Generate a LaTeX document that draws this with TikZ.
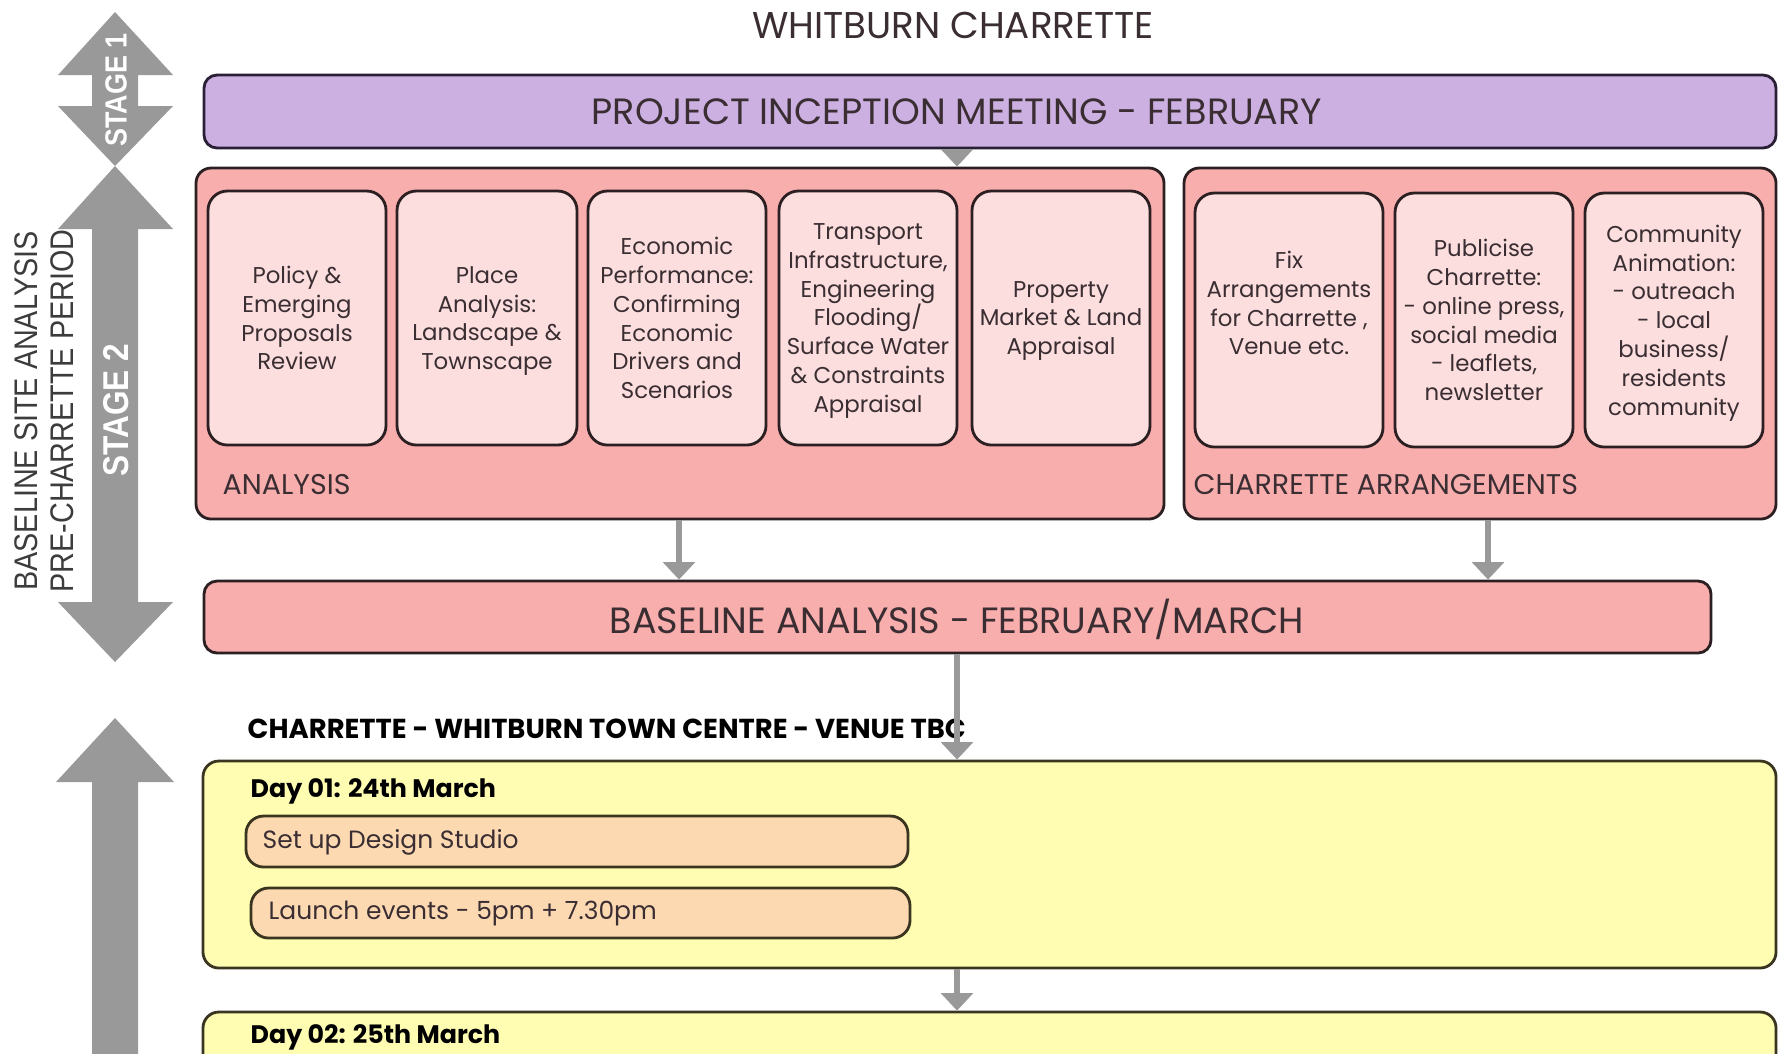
\documentclass[tikz,border=0pt]{standalone}
\usepackage{fontspec}
\setmainfont{Poppins}
\newfontfamily\din[FakeStretch=0.88]{Liberation Sans}
\usetikzlibrary{fit,arrows.meta}

\definecolor{inkc}{HTML}{3A2E33}
\definecolor{lilac}{HTML}{CDB0E2}
\definecolor{lilacedge}{HTML}{2A2036}
\definecolor{salmon}{HTML}{F9AEAE}
\definecolor{blush}{HTML}{FCDEDE}
\definecolor{cream}{HTML}{FFFDB2}
\definecolor{creamedge}{HTML}{3A3520}
\definecolor{peach}{HTML}{FDD9B2}
\definecolor{steel}{HTML}{999999}
\definecolor{edge}{HTML}{2B1F22}
\definecolor{sidegray}{HTML}{3C3C3C}

\tikzset{
  box/.style={draw=edge, line width=0.8pt, inner sep=0pt},
  panel/.style={box, fill=salmon, rounded corners=4.3pt},
  card/.style={box, fill=blush, rounded corners=5.5pt},
  cardtext/.style={align=center, text=inkc, inner sep=0pt, text depth=0pt,
    font=\fontsize{6.5}{8.2}\selectfont},
  bar/.style={box, rounded corners=3.7pt},
  bartext/.style={text=inkc, inner sep=0pt, font=\fontsize{10.4}{12}\selectfont},
  paneltext/.style={text=inkc, inner sep=0pt, anchor=base west, font=\fontsize{8.1}{9}\selectfont},
  daybox/.style={box, draw=creamedge, fill=cream, rounded corners=4.5pt},
  pill/.style={box, draw=creamedge, fill=peach, rounded corners=5pt},
  pilltext/.style={text=inkc, inner sep=0pt, anchor=west, font=\fontsize{7.1}{9}\selectfont},
  headtext/.style={text=black, inner sep=0pt, anchor=base west, font=\bfseries\fontsize{7.2}{9}\selectfont},
  stagetext/.style={rotate=90, text=white, inner sep=0pt, font=\din\bfseries},
  conn/.style={draw=steel, line width=1.7pt, -{Triangle[width=9pt,length=5pt]}},
}

\begin{document}
\begin{tikzpicture}[x=0.01cm, y=-0.01cm]
  \useasboundingbox (0,0) rectangle (1780,1053);
  \clip (0,0) rectangle (1780,1053);

  % common vertical axis and connector columns
  \coordinate (axis) at (957,0);
  \coordinate (lcol) at (679,0);
  \coordinate (rcol) at (1488,0);

  % title
  \node[bartext, font=\fontsize{10.6}{12}\selectfont] (title) at (953,25) {WHITBURN CHARRETTE};

  % stage arrows on the left
  \fill[steel] (115,12) -- (173,75) -- (138,75) -- (138,106) -- (173,106) -- (115,166)
    -- (58,106) -- (92,106) -- (92,75) -- (58,75) -- cycle;
  \fill[steel] (115,166) -- (173,229) -- (138,229) -- (138,602) -- (173,602) -- (115,662)
    -- (58,602) -- (92,602) -- (92,229) -- (58,229) -- cycle;
  \fill[steel] (115,718) -- (174,782) -- (138,782) -- (138,1070) -- (92,1070) -- (92,782)
    -- (56,782) -- cycle;
  \node[stagetext, font=\din\bfseries\fontsize{8.7}{10}\selectfont] (stage1) at (116,90) {STAGE 1};
  \node[stagetext, font=\din\bfseries\fontsize{10.2}{11}\selectfont] (stage2) at (116,410) {STAGE 2};
  \node[rotate=90, align=center, text=sidegray, inner sep=0pt,
        font=\din\fontsize{9.3}{10.2}\selectfont] (period) at (44,411)
        {BASELINE SITE ANALYSIS\\PRE-CHARRETTE PERIOD};

  % inception meeting
  \node[bar, fill=lilac, draw=lilacedge, fit={(204,75) (1776,148)}] (pim) {};
  \node[bartext] (pimt) at (957,112) {PROJECT INCEPTION MEETING - FEBRUARY};

  % analysis panel
  \node[panel, fit={(196,168) (1164,519)}] (ana) {};
  \node[paneltext] (anat) at (222,494) {ANALYSIS};
  \node[card, fit={(208,191) (386,445)}] (a1) {};
  \node[card, fit={(397,191) (577,445)}] (a2) {};
  \node[card, fit={(588,191) (766,445)}] (a3) {};
  \node[card, fit={(779,191) (957,445)}] (a4) {};
  \node[card, fit={(972,191) (1150,445)}] (a5) {};
  \node[cardtext] (a1t) at (a1.center) {Policy \&\\Emerging\\Proposals\\Review};
  \node[cardtext] (a2t) at (a2.center) {Place\\Analysis:\\Landscape \&\\Townscape};
  \node[cardtext] (a3t) at (a3.center) {Economic\\Performance:\\Confirming\\Economic\\Drivers and\\Scenarios};
  \node[cardtext] (a4t) at (a4.center) {Transport\\Infrastructure,\\Engineering\\Flooding/\\Surface Water\\\& Constraints\\Appraisal};
  \node[cardtext] (a5t) at (a5.center) {Property\\Market \& Land\\Appraisal};

  % charrette arrangements panel
  \node[panel, fit={(1184,168) (1776,519)}] (arr) {};
  \node[paneltext] (arrt) at (1193,494) {CHARRETTE ARRANGEMENTS};
  \node[card, fit={(1195,193) (1383,447)}] (c1) {};
  \node[card, fit={(1395,193) (1573,447)}] (c2) {};
  \node[card, fit={(1585,193) (1763,447)}] (c3) {};
  \node[cardtext] (c1t) at (1289,303) {Fix\\Arrangements\\for Charrette ,\\Venue etc.};
  \node[cardtext] (c2t) at (c2.center) {Publicise\\Charrette:\\- online press,\\social media\\- leaflets,\\newsletter};
  \node[cardtext] (c3t) at (c3.center) {Community\\Animation:\\- outreach\\- local\\business/\\residents\\community};

  % baseline analysis
  \node[bar, fill=salmon, fit={(204,581) (1711,653)}] (base) {};
  \node[bartext] (baset) at (957,619) {BASELINE ANALYSIS - FEBRUARY/MARCH};

  % charrette days
  \node[headtext, font=\bfseries\fontsize{7.8}{9}\selectfont] (venue) at (247,738) {CHARRETTE - WHITBURN TOWN CENTRE - VENUE TBC};
  \node[daybox, fit={(203,761) (1776,968)}] (day1) {};
  \node[headtext] (day1t) at (250,797) {Day 01: 24th March};
  \node[pill, fit={(246,816) (908,867)}] (setup) {};
  \node[pilltext] (setupt) at (262,842) {Set up Design Studio};
  \node[pill, fit={(251,888) (910,938)}] (launch) {};
  \node[pilltext] (launcht) at (268,913) {Launch events - 5pm + 7.30pm};
  \node[daybox, fit={(203,1012) (1776,1110)}] (day2) {};
  \node[headtext] (day2t) at (250,1043) {Day 02: 25th March};

  % connectors
  \draw[conn] (pim.south -| axis) -- (ana.north -| axis);
  \draw[conn] (ana.south -| lcol) -- (base.north -| lcol);
  \draw[conn] (arr.south -| rcol) -- (base.north -| rcol);
  \draw[conn] (base.south -| axis) -- (day1.north -| axis);
  \draw[conn] (day1.south -| axis) -- (day2.north -| axis);
\end{tikzpicture}
\end{document}
